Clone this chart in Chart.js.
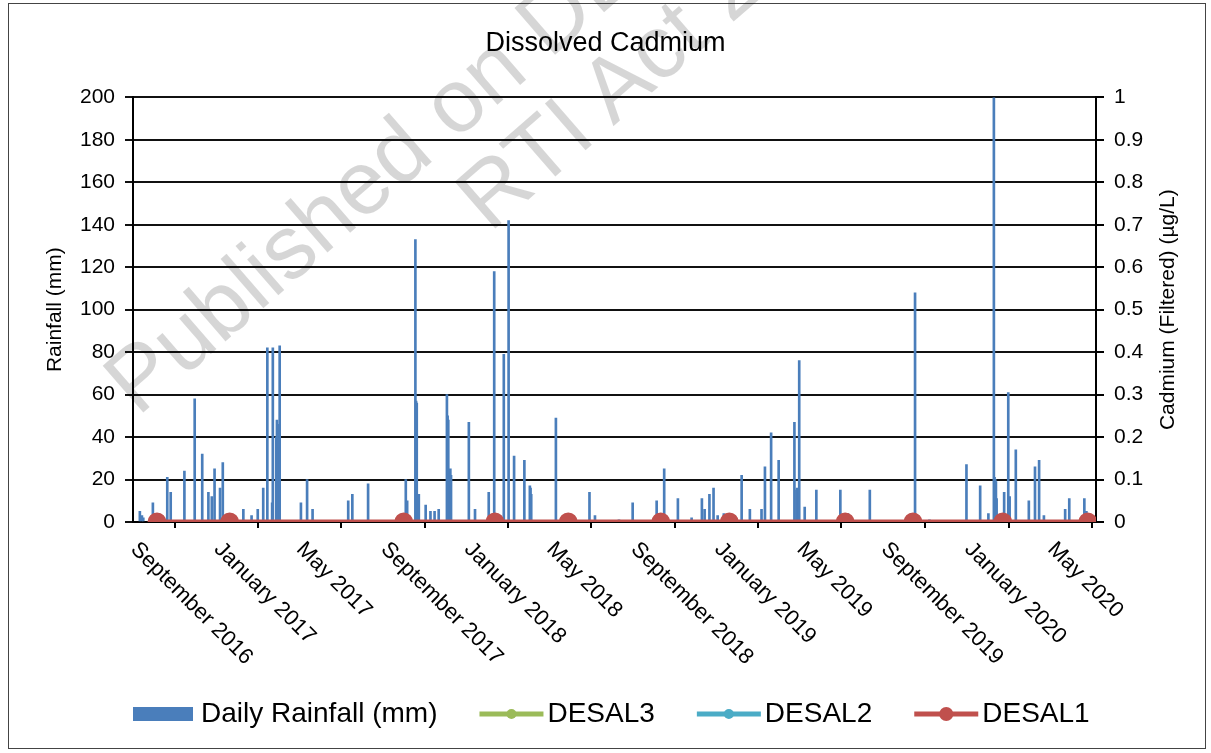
<!DOCTYPE html>
<html>
<head>
<meta charset="utf-8">
<title>Dissolved Cadmium</title>
<script src="https://cdn.jsdelivr.net/npm/chart.js@4.4.1/dist/chart.umd.min.js"></script>
<style>
    html, body { margin: 0; padding: 0; background: #fff; }
    #wrap { position: relative; width: 1211px; height: 753px; overflow: hidden; }
    #frame { position: absolute; left: 8px; top: 3px; width: 1196px; height: 744px; border: 1px solid #444; pointer-events: none; }
    .wm { position: absolute; font: 90px 'Liberation Sans', Arial, sans-serif; line-height: 1; color: rgba(0, 0, 0, 0.16);
          transform-origin: 0 0; transform: rotate(-41deg); white-space: nowrap; pointer-events: none; }
</style>
</head>
<body>
<div id="wrap">
    <canvas id="cadmium-chart" width="1211" height="753"></canvas>
    <div id="frame"></div>
    <div class="wm" style="left:88px; top:360px;">Published on DES</div>
    <div class="wm" style="left:440px; top:176px;">RTI Act 2009</div>
</div>
<script>
// daily rainfall (mm), only days with rain
const rainDates = [
    '2016-09-11', '2016-09-14', '2016-09-16', '2016-09-30', '2016-10-21', '2016-10-26', '2016-11-15', '2016-11-30',
    '2016-12-11', '2016-12-20', '2016-12-25', '2016-12-29', '2017-01-06', '2017-01-10', '2017-02-09', '2017-02-21',
    '2017-03-02', '2017-03-10', '2017-03-16', '2017-03-23', '2017-03-24', '2017-03-29', '2017-03-30', '2017-03-31',
    '2017-04-01', '2017-04-03', '2017-05-04', '2017-05-13', '2017-05-21', '2017-07-12', '2017-07-18', '2017-08-10',
    '2017-10-04', '2017-10-06', '2017-10-18', '2017-10-19', '2017-10-20', '2017-10-22', '2017-10-23', '2017-11-02',
    '2017-11-09', '2017-11-15', '2017-11-21', '2017-12-03', '2017-12-04', '2017-12-05', '2017-12-07', '2017-12-08',
    '2017-12-09', '2018-01-04', '2018-01-13', '2018-02-02', '2018-02-10', '2018-02-24', '2018-03-03', '2018-03-11',
    '2018-03-26', '2018-04-03', '2018-04-04', '2018-04-05', '2018-05-11', '2018-06-29', '2018-07-07', '2018-08-11',
    '2018-08-31', '2018-10-05', '2018-10-16', '2018-11-05', '2018-11-25', '2018-12-10', '2018-12-14', '2018-12-21',
    '2018-12-27', '2019-01-02', '2019-01-11', '2019-02-06', '2019-02-18', '2019-03-07', '2019-03-12', '2019-03-21',
    '2019-04-01', '2019-04-24', '2019-04-27', '2019-04-28', '2019-04-29', '2019-04-30', '2019-05-01', '2019-05-09',
    '2019-05-26', '2019-06-30', '2019-07-11', '2019-08-12', '2019-10-17', '2019-11-07', '2019-12-31', '2020-01-20',
    '2020-02-01', '2020-02-09', '2020-02-10', '2020-02-11', '2020-02-12', '2020-02-13', '2020-02-24', '2020-03-01',
    '2020-03-03', '2020-03-12', '2020-03-31', '2020-04-09', '2020-04-15', '2020-04-22', '2020-05-23', '2020-05-29',
    '2020-06-20', '2020-06-23'
];
const rainValues = [
    5, 3, 2, 9, 21, 14, 24, 58,
    32, 14, 12, 25, 16, 28, 6, 3,
    6, 16, 82, 9, 82, 40, 48, 46,
    35, 83, 9, 20, 6, 10, 13, 18,
    20, 10, 133, 57, 56, 13, 13, 8,
    5, 5, 6, 60, 50, 48, 24, 25,
    22, 47, 6, 14, 118, 79, 142, 31,
    29, 17, 16, 13, 49, 14, 3, 1,
    9, 10, 25, 11, 2, 11, 6, 13,
    16, 3, 4, 22, 6, 6, 26, 42,
    29, 47, 15, 16, 12, 14, 76, 7,
    15, 15, 4, 15, 108, 1, 27, 17,
    4, 220, 21, 20, 19, 11, 14, 61,
    12, 34, 10, 26, 29, 3, 6, 11,
    11, 5
];

// cadmium samples (µg/L)
const sampleDates = [
    '2016-10-06', '2017-01-20', '2017-10-01', '2018-02-11', '2018-05-29', '2018-10-11',
    '2019-01-19', '2019-07-07', '2019-10-14', '2020-02-22', '2020-06-25'
];
const desal1Values = [0, 0, 0, 0, 0, 0, 0, 0, 0, 0, 0];
const desal2Values = [0, 0, 0, 0, 0, 0, 0, 0, 0, 0, 0];
const desal3Values = [0, 0, 0, 0, 0, 0, 0, 0, 0, 0, 0];

const tickDates = [
    '2016-09-01', '2017-01-01', '2017-05-01', '2017-09-01', '2018-01-01', '2018-05-01',
    '2018-09-01', '2019-01-01', '2019-05-01', '2019-09-01', '2020-01-01', '2020-05-01'
];
const tickLabels = [
    'September 2016', 'January 2017', 'May 2017', 'September 2017', 'January 2018', 'May 2018',
    'September 2018', 'January 2019', 'May 2019', 'September 2019', 'January 2020', 'May 2020'
];
const axisStart = '2016-09-01';
const axisEnd = '2020-07-07';

const FONT = "'Liberation Sans', Arial, sans-serif";

function toDay(s) {
    const [y, m, d] = s.split('-').map(Number);
    const [y0, m0, d0] = axisStart.split('-').map(Number);
    return (Date.UTC(y, m - 1, d) - Date.UTC(y0, m0 - 1, d0)) / 86400000;
}

function pairs(dates, values) {
    return dates.map((d, i) => ({ x: toDay(d), y: values[i] }));
}

// x labels slanting down to the right, right axis title, and the legend
const extrasPlugin = {
    id: 'extras',
    afterDraw(chart) {
        const ctx = chart.ctx;
        const xs = chart.scales.x;
        const area = chart.chartArea;

        ctx.save();
        ctx.fillStyle = '#000';
        ctx.font = '22px ' + FONT;
        ctx.textAlign = 'left';
        ctx.textBaseline = 'middle';
        tickDates.forEach((d, i) => {
            const px = xs.getPixelForValue(toDay(d));
            ctx.save();
            ctx.translate(px + 1, area.bottom + 24);
            ctx.rotate(Math.PI / 4);
            ctx.fillText(tickLabels[i], 0, 0);
            ctx.restore();
        });

        ctx.save();
        ctx.font = '21px ' + FONT;
        ctx.textAlign = 'center';
        ctx.translate(1168, (area.top + area.bottom) / 2);
        ctx.rotate(-Math.PI / 2);
        ctx.fillText('Cadmium (Filtered) (µg/L)', 0, 0);
        ctx.restore();

        // legend
        const order = [0, 3, 2, 1];
        const ly = 714;
        let lx = 133;
        ctx.font = '28px ' + FONT;
        ctx.textAlign = 'left';
        order.forEach((idx) => {
            const ds = chart.data.datasets[idx];
            if (ds.type === 'bar') {
                ctx.fillStyle = ds.backgroundColor;
                ctx.fillRect(lx, ly - 7, 60, 14);
                lx += 68;
            } else {
                ctx.strokeStyle = ds.borderColor;
                ctx.lineWidth = 5;
                ctx.beginPath();
                ctx.moveTo(lx, ly);
                ctx.lineTo(lx + 64, ly);
                ctx.stroke();
                ctx.fillStyle = ds.pointBackgroundColor;
                ctx.beginPath();
                ctx.arc(lx + 32, ly, ds.label === 'DESAL1' ? 7 : 5, 0, Math.PI * 2);
                ctx.fill();
                lx += 68;
            }
            ctx.fillStyle = '#000';
            ctx.fillText(ds.label, lx, ly);
            lx += ctx.measureText(ds.label).width + 42;
        });
        ctx.restore();
    }
};

new Chart(document.getElementById('cadmium-chart'), {
    data: {
        datasets: [
            {
                type: 'bar',
                label: 'Daily Rainfall (mm)',
                data: pairs(rainDates, rainValues),
                backgroundColor: '#4a7ebb',
                barThickness: 2,
                yAxisID: 'y',
                order: 4
            },
            {
                type: 'line',
                label: 'DESAL1',
                data: pairs(sampleDates, desal1Values),
                borderColor: '#c0504d',
                backgroundColor: '#c0504d',
                pointBackgroundColor: '#c0504d',
                pointBorderColor: '#c0504d',
                borderWidth: 5,
                pointRadius: 7,
                yAxisID: 'y1',
                order: 1
            },
            {
                type: 'line',
                label: 'DESAL2',
                data: pairs(sampleDates, desal2Values),
                borderColor: '#4bacc6',
                backgroundColor: '#4bacc6',
                pointBackgroundColor: '#4bacc6',
                pointBorderColor: '#4bacc6',
                borderWidth: 4,
                pointRadius: 5,
                yAxisID: 'y1',
                order: 2
            },
            {
                type: 'line',
                label: 'DESAL3',
                data: pairs(sampleDates, desal3Values),
                borderColor: '#9bbb59',
                backgroundColor: '#9bbb59',
                pointBackgroundColor: '#9bbb59',
                pointBorderColor: '#9bbb59',
                borderWidth: 4,
                pointRadius: 5,
                yAxisID: 'y1',
                order: 3
            }
        ]
    },
    options: {
        responsive: false,
        animation: false,
        layout: { padding: 0 },
        plugins: {
            legend: { display: false },
            tooltip: { enabled: false },
            title: {
                display: true,
                text: 'Dissolved Cadmium',
                color: '#000',
                font: { family: FONT, size: 27, weight: 'normal' },
                padding: { top: 27, bottom: 38 }
            }
        },
        scales: {
            x: {
                type: 'linear',
                min: toDay(axisStart),
                max: toDay(axisEnd),
                offset: false,
                afterBuildTicks: (scale) => {
                    scale.ticks = tickDates.map(d => ({ value: toDay(d) }));
                },
                afterFit: (scale) => { scale.height = 753 - 522; },
                ticks: { display: false },
                grid: { drawOnChartArea: false, drawTicks: true, tickLength: 6, color: '#000', lineWidth: 2 },
                border: { color: '#000', width: 2 }
            },
            y: {
                position: 'left',
                min: 0,
                max: 200,
                ticks: { stepSize: 20, color: '#000', padding: 10, font: { family: FONT, size: 21 } },
                grid: { color: '#111', lineWidth: 2, tickLength: 8 },
                border: { color: '#000', width: 2 },
                title: {
                    display: true,
                    text: 'Rainfall (mm)',
                    color: '#000',
                    font: { family: FONT, size: 21 },
                    padding: { top: 43, bottom: 0 }
                },
                afterFit: (scale) => { scale.width = 133; }
            },
            y1: {
                position: 'right',
                min: 0,
                max: 1,
                ticks: {
                    stepSize: 0.1,
                    color: '#000',
                    padding: 10,
                    font: { family: FONT, size: 21 },
                    callback: (value) => String(Number(value.toFixed(1)))
                },
                grid: { drawOnChartArea: false, color: '#000', lineWidth: 2, tickLength: 8 },
                border: { color: '#000', width: 2 },
                afterFit: (scale) => { scale.width = 1211 - 1096; }
            }
        }
    },
    plugins: [extrasPlugin]
});
</script>
</body>
</html>
